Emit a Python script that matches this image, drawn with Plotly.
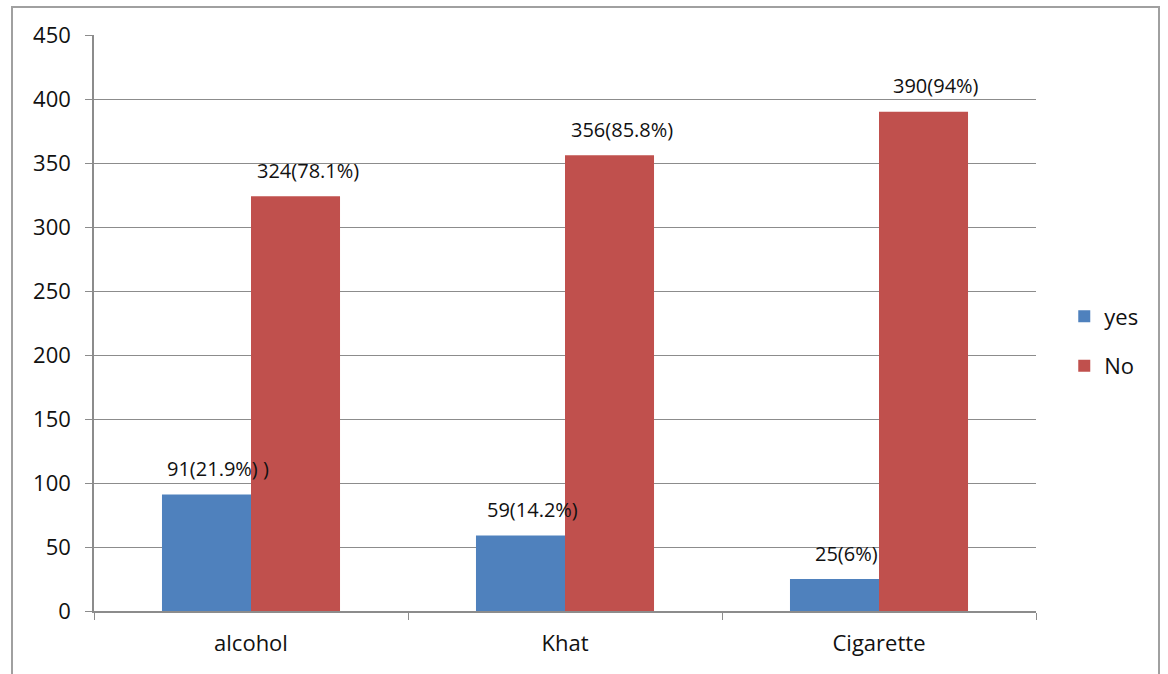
import plotly.graph_objects as go

categories = ["alcohol", "Khat", "Cigarette"]
yes_values = [91, 59, 25]
no_values = [324, 356, 390]
yes_labels = ["91(21.9%) )", "59(14.2%)", "25(6%)"]
no_labels = ["324(78.1%)", "356(85.8%)", "390(94%)"]
y_ticks = [0, 50, 100, 150, 200, 250, 300, 350, 400, 450]

BLUE = "#4F81BD"
RED = "#C0504D"
GRID = "#8C8C8C"
FONT = "Open Sans, Liberation Sans, sans-serif"
TXT = "#111111"

fig = go.Figure()
fig.add_trace(go.Bar(name="yes", x=categories, y=yes_values, marker_color=BLUE,
                     marker_line_width=0, legendgroup="a"))
fig.add_trace(go.Bar(name="No", x=categories, y=no_values, marker_color=RED,
                     marker_line_width=0, legendgroup="b"))

L, R, T, B = 94, 132, 35, 63
W, H = 1168, 674
plot_w = W - L - R
bargap = 0.433
bar_px = plot_w / len(categories) * (1 - bargap) / 2

for i, c in enumerate(categories):
    for val, lab, sgn in ((yes_values[i], yes_labels[i], -1), (no_values[i], no_labels[i], 1)):
        fig.add_annotation(x=c, y=val, text=lab, showarrow=False, xanchor="center",
                           yanchor="middle", xshift=sgn * bar_px / 2 + 12, yshift=26,
                           font=dict(size=20, color=TXT, family=FONT))

plot_h = H - T - B
fig.add_shape(type="rect", xref="paper", yref="paper",
              x0=(12 - L) / plot_w, x1=(1159 - L) / plot_w,
              y0=-(B + 20) / plot_h, y1=1 + (T - 7) / plot_h,
              line=dict(color="#A0A0A0", width=2), layer="below")

fig.update_layout(
    width=W, height=H,
    margin=dict(l=L, r=R, t=T, b=B, autoexpand=False),
    paper_bgcolor="white", plot_bgcolor="white",
    barmode="group", bargap=bargap, bargroupgap=0,
    font=dict(family=FONT, size=22, color=TXT),
    legend=dict(x=1.03, y=0.468, xanchor="left", yanchor="middle",
                font=dict(size=22, color=TXT), itemwidth=30, tracegroupgap=18,
                bgcolor="rgba(0,0,0,0)"),
    showlegend=True,
)
fig.update_xaxes(showline=True, linecolor=GRID, linewidth=1.5, ticks="outside",
                 tickson="boundaries", ticklen=7, tickcolor=GRID, showgrid=False,
                 ticklabelstandoff=12, tickfont=dict(size=22, color=TXT))
fig.update_yaxes(range=[0, 450], tickvals=y_ticks, showline=True, linecolor=GRID, linewidth=1.5,
                 ticks="outside", ticklen=7, tickcolor=GRID, showgrid=True, gridcolor=GRID,
                 gridwidth=1.2, zeroline=False, ticklabelstandoff=10,
                 tickfont=dict(size=22, color=TXT))

fig.write_html("out.html")
